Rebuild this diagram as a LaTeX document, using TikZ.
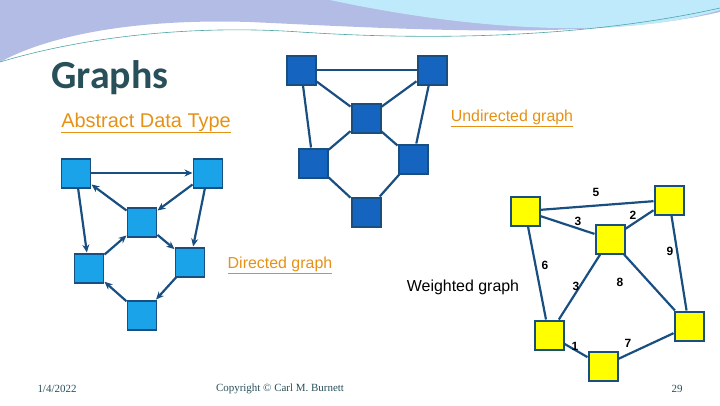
\documentclass[tikz,border=0pt]{standalone}
\usepackage{fontspec}
\setmainfont{Liberation Sans}
\newfontfamily\titlefont{Carlito}
\newfontfamily\footfont{Liberation Serif}
\usepackage{tikz}
\usetikzlibrary{calc}
\usetikzlibrary{arrows.meta}

\definecolor{udblue}{RGB}{21,101,192}
\definecolor{dblue}{RGB}{26,163,232}
\definecolor{edgeblue}{RGB}{24,78,128}
\definecolor{ylw}{RGB}{255,255,0}
\definecolor{orng}{RGB}{230,145,20}
\definecolor{titlecol}{RGB}{40,80,90}

\begin{document}
\begin{tikzpicture}[x=1bp, y=-1bp,
  undir/.style = {shape=rectangle, draw=edgeblue, line width=2pt,
    fill=udblue, minimum size=29bp, inner sep=0pt},
  dir/.style = {shape=rectangle, draw=edgeblue, line width=2pt,
    fill=dblue, minimum size=29bp, inner sep=0pt},
  wgt/.style = {shape=rectangle, draw=edgeblue, line width=2pt,
    fill=ylw, minimum size=29bp, inner sep=0pt},
  link/.style = {draw=edgeblue, line width=2.2pt},
  arc/.style = {link, -{Stealth[length=8bp, width=7bp]}},
  weight/.style = {font=\bfseries\fontsize{12}{14}\selectfont},
  caption/.style = {font=\fontsize{16}{19}\selectfont, text=orng},
  foot/.style = {font=\footfont\fontsize{11}{13}\selectfont, text=titlecol}]
  \useasboundingbox (0,0) rectangle (720,405);
  % banner
  \fill[cyan!35!blue!30!white] (0,0) -- (720,0) -- (720,12)
    .. controls (600,40) and (420,30) .. (250,22)
    .. controls (120,18) and (40,40) .. (0,62) -- cycle;
  \fill[cyan!25!white] (330,0) -- (720,0) -- (720,10)
    .. controls (620,40) and (470,30) .. (330,0) -- cycle;
  \draw[teal!70, line width=0.6pt] (0,62) .. controls (90,35) and (200,25) .. (300,32)
    .. controls (450,42) and (600,35) .. (720,8);
  % titles
  \node[font=\titlefont\bfseries\fontsize{40}{44}\selectfont, text=titlecol] (title) at (110,78) {Graphs};
  \node[font=\fontsize{20}{24}\selectfont, text=orng] (adt) at (146,123) {\underline{Abstract Data Type}};
  \node[caption] (ucap) at (512,118) {\underline{Undirected graph}};
  \node[caption] (dcap) at (280,265) {\underline{Directed graph}};
  \node[font=\fontsize{16}{19}\selectfont] (wcap) at (463,287) {Weighted graph};
  % undirected graph
  \node[undir] (u1) at (301,70) {};
  \node[undir] (u2) at (432,70) {};
  \node[undir] (u3) at (366,118) {};
  \node[undir] (u4) at (313,163) {};
  \node[undir] (u5) at (413,159) {};
  \node[undir] (u6) at (366,212) {};
  \foreach \a/\b in {u1/u2, u1/u3, u1/u4, u2/u3, u2/u5, u3/u4, u3/u5, u4/u6, u5/u6}
    \draw[link] (\a) -- (\b);
  % directed graph
  \node[dir] (d1) at (76,173) {};
  \node[dir] (d2) at (208,173) {};
  \node[dir] (d3) at (142,222) {};
  \node[dir] (d4) at (89,268) {};
  \node[dir] (d5) at (190,262) {};
  \node[dir] (d6) at (142,315) {};
  \foreach \a/\b in {d1/d2, d3/d1, d2/d3, d1/d4, d2/d5, d3/d5, d4/d3, d5/d6, d6/d4}
    \draw[arc] (\a) -- (\b);
  % weighted graph
  \node[wgt] (w1) at (525,211) {};
  \node[wgt] (w2) at (669,200) {};
  \node[wgt] (w3) at (610,239) {};
  \node[wgt] (w4) at (549,335) {};
  \node[wgt] (w5) at (689,326) {};
  \node[wgt] (w6) at (603,366) {};
  \foreach \a/\b in {w1/w2, w1/w3, w3/w2, w1/w4, w3/w4, w3/w5, w2/w5, w4/w6, w6/w5}
    \draw[link] (\a) -- (\b);
  \node[weight] (l5) at (596,192) {5};
  \node[weight] (l3a) at (578,221) {3};
  \node[weight] (l2) at (633,215) {2};
  \node[weight] (l9) at (670,251) {9};
  \node[weight] (l6) at (545,265) {6};
  \node[weight] (l3b) at (576,286) {3};
  \node[weight] (l8) at (620,282) {8};
  \node[weight] (l1) at (575,346) {1};
  \node[weight] (l7) at (628,343) {7};
  % footer
  \node[foot] (date) at (57,389) {1/4/2022};
  \node[foot] (copy) at (280,389) {Copyright \textcopyright{} Carl M. Burnett};
  \node[foot] (page) at (677,389) {29};
\end{tikzpicture}
\end{document}
